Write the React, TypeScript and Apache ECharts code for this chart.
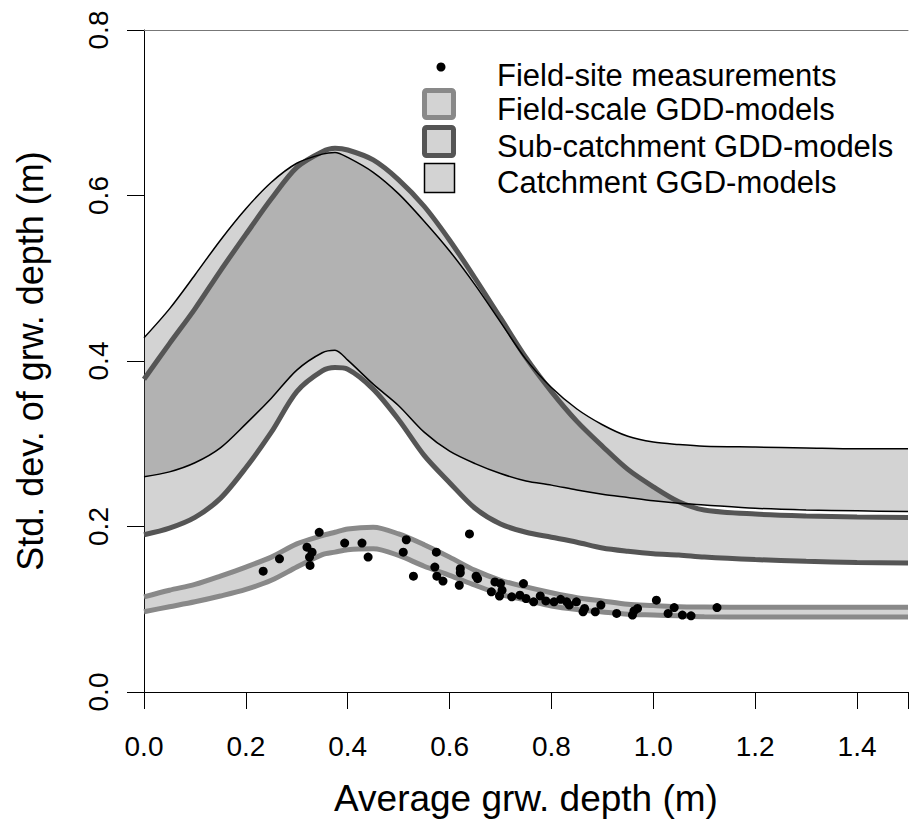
import React, { useEffect, useRef } from 'react'
import * as echarts from 'echarts'

// x positions shared by all model curves
const xs = [0, 0.05, 0.1, 0.15, 0.2, 0.25, 0.3, 0.35, 0.375, 0.4, 0.45, 0.5, 0.55, 0.6, 0.65, 0.7, 0.75, 0.8, 0.85, 0.9, 0.95, 1.0, 1.05, 1.1, 1.2, 1.3, 1.4, 1.5]

// catchment band (thin black outline)
const catchUpper = [0.428, 0.463, 0.504, 0.546, 0.584, 0.616, 0.639, 0.650, 0.652, 0.646, 0.628, 0.602, 0.569, 0.533, 0.492, 0.447, 0.402, 0.368, 0.342, 0.323, 0.309, 0.302, 0.299, 0.297, 0.296, 0.295, 0.294, 0.294]
const catchLower = [0.260, 0.266, 0.277, 0.295, 0.324, 0.355, 0.389, 0.410, 0.413, 0.401, 0.372, 0.346, 0.314, 0.291, 0.276, 0.264, 0.255, 0.250, 0.244, 0.239, 0.235, 0.231, 0.228, 0.226, 0.222, 0.220, 0.219, 0.218]

// sub-catchment band (dark grey outline)
const subUpper = [0.378, 0.421, 0.463, 0.509, 0.553, 0.596, 0.634, 0.653, 0.657, 0.655, 0.643, 0.619, 0.587, 0.546, 0.500, 0.452, 0.404, 0.363, 0.327, 0.297, 0.269, 0.248, 0.230, 0.220, 0.215, 0.2127, 0.2115, 0.211]
const subLower = [0.190, 0.198, 0.211, 0.234, 0.271, 0.314, 0.363, 0.388, 0.392, 0.390, 0.366, 0.329, 0.286, 0.253, 0.222, 0.203, 0.193, 0.187, 0.181, 0.174, 0.170, 0.167, 0.1655, 0.163, 0.160, 0.158, 0.1565, 0.156]

// field-scale band (medium grey outline)
const fieldUpper = [0.115, 0.123, 0.130, 0.140, 0.151, 0.163, 0.179, 0.189, 0.193, 0.197, 0.199, 0.191, 0.178, 0.163, 0.147, 0.135, 0.127, 0.120, 0.114, 0.110, 0.106, 0.1045, 0.103, 0.1027, 0.1025, 0.1025, 0.1025, 0.1025]
const fieldLower = [0.097, 0.103, 0.109, 0.116, 0.124, 0.135, 0.151, 0.166, 0.169, 0.172, 0.173, 0.165, 0.152, 0.141, 0.129, 0.118, 0.111, 0.104, 0.0997, 0.0967, 0.094, 0.093, 0.092, 0.091, 0.0906, 0.0906, 0.0906, 0.0906]

// field-site measurements
const siteX = [0.344, 0.639, 0.320, 0.330, 0.325, 0.326, 0.266, 0.234, 0.394, 0.428, 0.440, 0.515, 0.509, 0.574, 0.529, 0.571, 0.575, 0.587, 0.621, 0.621, 0.619, 0.652, 0.655, 0.682, 0.689, 0.700, 0.745, 0.698, 0.703, 0.722, 0.738, 0.750, 0.778, 0.765, 0.789, 0.805, 0.818, 0.835, 0.849, 0.865, 0.862, 0.886, 0.897, 0.928, 0.962, 0.969, 0.959, 1.006, 1.029, 1.041, 1.057, 1.074, 1.125, 0.830]
const siteY = [0.193, 0.191, 0.175, 0.169, 0.163, 0.153, 0.161, 0.146, 0.180, 0.180, 0.163, 0.184, 0.169, 0.169, 0.140, 0.151, 0.140, 0.134, 0.149, 0.144, 0.129, 0.140, 0.137, 0.121, 0.133, 0.131, 0.131, 0.116, 0.123, 0.115, 0.117, 0.113, 0.116, 0.109, 0.110, 0.109, 0.112, 0.105, 0.109, 0.101, 0.097, 0.097, 0.105, 0.095, 0.098, 0.101, 0.093, 0.111, 0.095, 0.102, 0.093, 0.092, 0.102, 0.109]

const xTicks = ['0.0', '0.2', '0.4', '0.6', '0.8', '1.0', '1.2', '1.4']

const FONT = '"Liberation Sans", Arial, sans-serif'
const BAND_FILL = 'rgba(79,79,79,0.25)'
const LIGHT = '#d3d3d3'
const DARK = '#555555'
const MID = '#898989'
const SMOOTH = 0.3

// rows are [y, x] so that the stack adds up the y values (dimension 0)
const yFirst = (ys: number[]) => xs.map((x, i) => [ys[i], x])
const widthRows = (upper: number[], lower: number[]) => xs.map((x, i) => [+(upper[i] - lower[i]).toFixed(4), x])

const bandFill = (id: string, lower: number[], upper: number[]) => [
  {
    type: 'line', stack: id, data: yFirst(lower), encode: { x: 1, y: 0 },
    smooth: SMOOTH, symbol: 'none', lineStyle: { width: 0, opacity: 0 }, silent: true, z: 1
  },
  {
    type: 'line', stack: id, data: widthRows(upper, lower), encode: { x: 1, y: 0 },
    smooth: SMOOTH, symbol: 'none', lineStyle: { width: 0, opacity: 0 },
    areaStyle: { color: BAND_FILL, opacity: 1 }, silent: true, z: 1
  }
]

const outline = (ys: number[], color: string, width: number) => ({
  type: 'line', data: xs.map((x, i) => [x, ys[i]]), smooth: SMOOTH, symbol: 'none',
  lineStyle: { color, width }, silent: true, z: 3
})

const legendRows = [
  { text: 'Field-site measurements', y: 75 },
  { text: 'Field-scale GDD-models', y: 109 },
  { text: 'Sub-catchment GDD-models', y: 146 },
  { text: 'Catchment GGD-models', y: 182 }
]

const App = () => {
  const chartRef: any = useRef()

  useEffect(() => {
    const chart = echarts.init(chartRef.current, null, { renderer: 'svg' })

    const options: any = {
      animation: false,
      textStyle: { fontFamily: FONT },
      grid: { left: 144, top: 30, width: 768, bottom: 141, containLabel: false },
      xAxis: [
        {
          type: 'value', min: 0, max: 1.5, interval: 0.2, position: 'bottom',
          axisLine: { show: true, onZero: false, lineStyle: { color: '#000', width: 1 } },
          axisTick: { show: true, length: 17, lineStyle: { color: '#000', width: 1 } },
          axisLabel: {
            fontSize: 28, color: '#000', margin: 40, fontFamily: FONT,
            formatter: (v: number) => {
              const k = Math.round(v / 0.2)
              return Math.abs(v / 0.2 - k) < 1e-6 && xTicks[k] !== undefined ? xTicks[k] : ''
            }
          },
          splitLine: { show: false },
          name: 'Average grw. depth (m)', nameLocation: 'middle', nameGap: 88,
          nameTextStyle: { fontSize: 37, color: '#000', fontFamily: FONT }
        },
        {
          type: 'value', min: 0, max: 1.5, position: 'top',
          axisLine: { show: true, onZero: false, lineStyle: { color: '#777', width: 1 } },
          axisTick: { show: false }, axisLabel: { show: false }, splitLine: { show: false }
        }
      ],
      yAxis: {
        type: 'value', min: 0, max: 0.8, interval: 0.2,
        axisLine: { show: true, lineStyle: { color: '#000', width: 1 } },
        axisTick: { show: true, length: 17, lineStyle: { color: '#000', width: 1 } },
        axisLabel: {
          fontSize: 28, color: '#000', margin: 32, rotate: 90, fontFamily: FONT,
          formatter: (v: number) => v.toFixed(1)
        },
        splitLine: { show: false },
        name: 'Std. dev. of grw. depth (m)', nameLocation: 'middle', nameGap: 96, nameRotate: 90,
        nameTextStyle: { fontSize: 36, color: '#000', fontFamily: FONT }
      },
      series: [
        ...bandFill('catch', catchLower, catchUpper),
        ...bandFill('sub', subLower, subUpper),
        ...bandFill('field', fieldLower, fieldUpper),
        outline(subUpper, DARK, 5),
        outline(subLower, DARK, 5),
        outline(catchUpper, '#000', 1.5),
        outline(catchLower, '#000', 1.5),
        outline(fieldUpper, MID, 5),
        outline(fieldLower, MID, 5),
        {
          type: 'scatter', data: siteX.map((x, i) => [x, siteY[i]]),
          symbol: 'circle', symbolSize: 9, itemStyle: { color: '#000', opacity: 1 }, silent: true, z: 4
        }
      ],
      graphic: [
        { type: 'circle', shape: { cx: 441, cy: 67, r: 4.5 }, style: { fill: '#000' } },
        { type: 'rect', shape: { x: 424.5, y: 90.5, width: 29, height: 27, r: 2 }, style: { fill: LIGHT, stroke: MID, lineWidth: 5 } },
        { type: 'rect', shape: { x: 424.5, y: 127.5, width: 29, height: 28, r: 2 }, style: { fill: LIGHT, stroke: DARK, lineWidth: 5 } },
        { type: 'rect', shape: { x: 424.5, y: 163.5, width: 30, height: 29 }, style: { fill: LIGHT, stroke: '#000', lineWidth: 1.5 } },
        ...legendRows.map((r) => ({
          type: 'text', x: 497, y: r.y,
          style: { text: r.text, fontSize: 31, fontFamily: FONT, fill: '#000', verticalAlign: 'middle' }
        }))
      ]
    }

    chart.setOption(options)

    return () => {
      chart.dispose()
    }
  }, [])

  return (
    <div ref={chartRef} style={{ position: 'absolute', left: 0, top: 0, width: 911, height: 833 }}></div>
  )
}

export default App
